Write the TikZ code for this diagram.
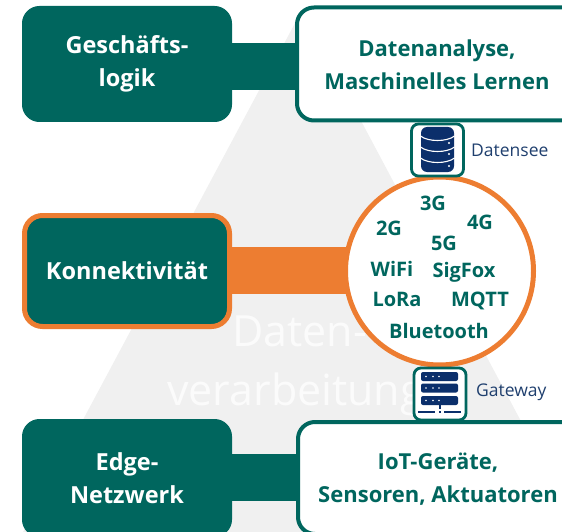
\documentclass[tikz,border=0pt]{standalone}
\usepackage{fontspec}
\setmainfont{Open Sans}
\definecolor{teal1}{HTML}{00665E}
\definecolor{org}{HTML}{ED7D31}
\definecolor{navy}{HTML}{0B2F6B}
\definecolor{lbl}{HTML}{1F3F6E}
\definecolor{tri}{HTML}{F0F0F0}
\tikzset{
 x=1pt,y=-1pt,
 darkbox/.style={draw=teal1,fill=teal1,line width=1pt,rounded corners=17pt,text=white,font=\bfseries\fontsize{23.5}{33}\selectfont,align=center,inner sep=0pt},
 lightbox/.style={draw=teal1,fill=white,line width=4pt,rounded corners=17pt,inner sep=0pt},
 lighttext/.style={text=teal1,font=\bfseries\fontsize{22}{33}\selectfont,align=center,inner sep=0pt},
 tech/.style={text=teal1,font=\bfseries\fontsize{20}{24}\selectfont,inner sep=0pt},
 iconbox/.style={draw=teal1,fill=white,line width=2.8pt,rounded corners=7pt,minimum width=52pt,minimum height=52pt,inner sep=0pt},
 sidelabel/.style={text=lbl,font=\fontsize{17.5}{20}\selectfont,inner sep=0pt,anchor=west},
 watermark/.style={text=white,opacity=.75,font=\fontsize{43}{50}\selectfont,inner sep=0pt,anchor=west},
 tealbar/.style={teal1,line width=47pt},
}
\begin{document}
\begin{tikzpicture}
\useasboundingbox (0,0) rectangle (562,532);
\clip (0,0) rectangle (562,532);
\fill[tri] (302,10) -- (580,532) -- (23,532) -- cycle;
\node[watermark] (w1) at (232,331) {Daten-};
\node[watermark] (w2) at (167,394) {verarbeitung};
% boxes
\coordinate (barA) at (225,66.5);
\coordinate (barB) at (305,66.5);
\coordinate (barC) at (225,477.5);
\coordinate (barD) at (305,477.5);
\draw[tealbar] (barA) -- (barB);
\draw[tealbar] (barC) -- (barD);
\node[darkbox,minimum width=209pt,minimum height=115pt] (logic) at (127,64) {Geschäfts-\\logik};
\node[lightbox,minimum width=290pt,minimum height=113pt] (ana) at (442,64) {};
\node[lighttext] (anat) at (437,65) {Datenanalyse,\\Maschinelles Lernen};
\node[darkbox,minimum width=209pt,minimum height=117pt] (edge) at (127,478) {Edge-\\Netzwerk};
\node[lightbox,minimum width=290pt,minimum height=112pt] (iot) at (443,478) {};
\node[lighttext] (iott) at (438,479) {IoT-Geräte,\\Sensoren, Aktuatoren};
% connectivity
\node[draw=org,fill=teal1,line width=5pt,rounded corners=18pt,text=white,font=\bfseries\fontsize{23.5}{28}\selectfont,minimum width=205pt,minimum height=111pt,inner sep=0pt] (kon) at (127,271) {Konnektivität};
\coordinate (barR) at (360,270.5);
\draw[org,line width=47pt] (kon.east |- barR) -- (barR);
\node[circle,draw=org,fill=white,line width=5pt,minimum size=188pt,inner sep=0pt] (net) at (439.5,271) {};
% technologies
\node[tech] (g3) at (433,203) {3G};
\node[tech] (g2) at (389,228) {2G};
\node[tech] (g4) at (480,222) {4G};
\node[tech] (g5) at (444,243) {5G};
\node[tech] (wifi) at (392,269) {WiFi};
\node[tech] (sig) at (464,272) {SigFox};
\node[tech] (lora) at (397,299) {LoRa};
\node[tech] (mqtt) at (480,301) {MQTT};
\node[tech] (bt) at (439,331) {Bluetooth};
% database icon
\node[iconbox] (db) at (437.5,150) {};
\fill[navy,rounded corners=6pt] (421,127) rectangle (454,172);
\draw[white,line width=1.1pt] (420.5,136) .. controls (428,142) and (447,142) .. (454.5,136);
\draw[white,line width=1.1pt] (420.5,147) .. controls (428,153) and (447,153) .. (454.5,147);
\draw[white,line width=1.1pt] (420.5,158) .. controls (428,164) and (447,164) .. (454.5,158);
\foreach \y in {143,154,166}{\fill[white] (449,\y) circle (1.1pt);}
\node[sidelabel] (dbl) at (471,150) {Datensee};
% server icon
\node[iconbox] (gw) at (440,394) {};
\foreach \y in {372,383.5,396}{
 \fill[navy,rounded corners=2pt] (421,\y) rectangle (458,\y+9);
 \foreach \x in {426,433,439}{\fill[white] (\x,\y+4.5) circle (.9pt);}
}
\fill[navy] (439,404) rectangle (441,409);
\fill[navy] (418,411) rectangle (435,413);
\fill[navy] (444,411) rectangle (461,413);
\fill[navy] (439,411) rectangle (441,413);
\node[sidelabel] (gwl) at (476,392) {Gateway};
\end{tikzpicture}
\end{document}
